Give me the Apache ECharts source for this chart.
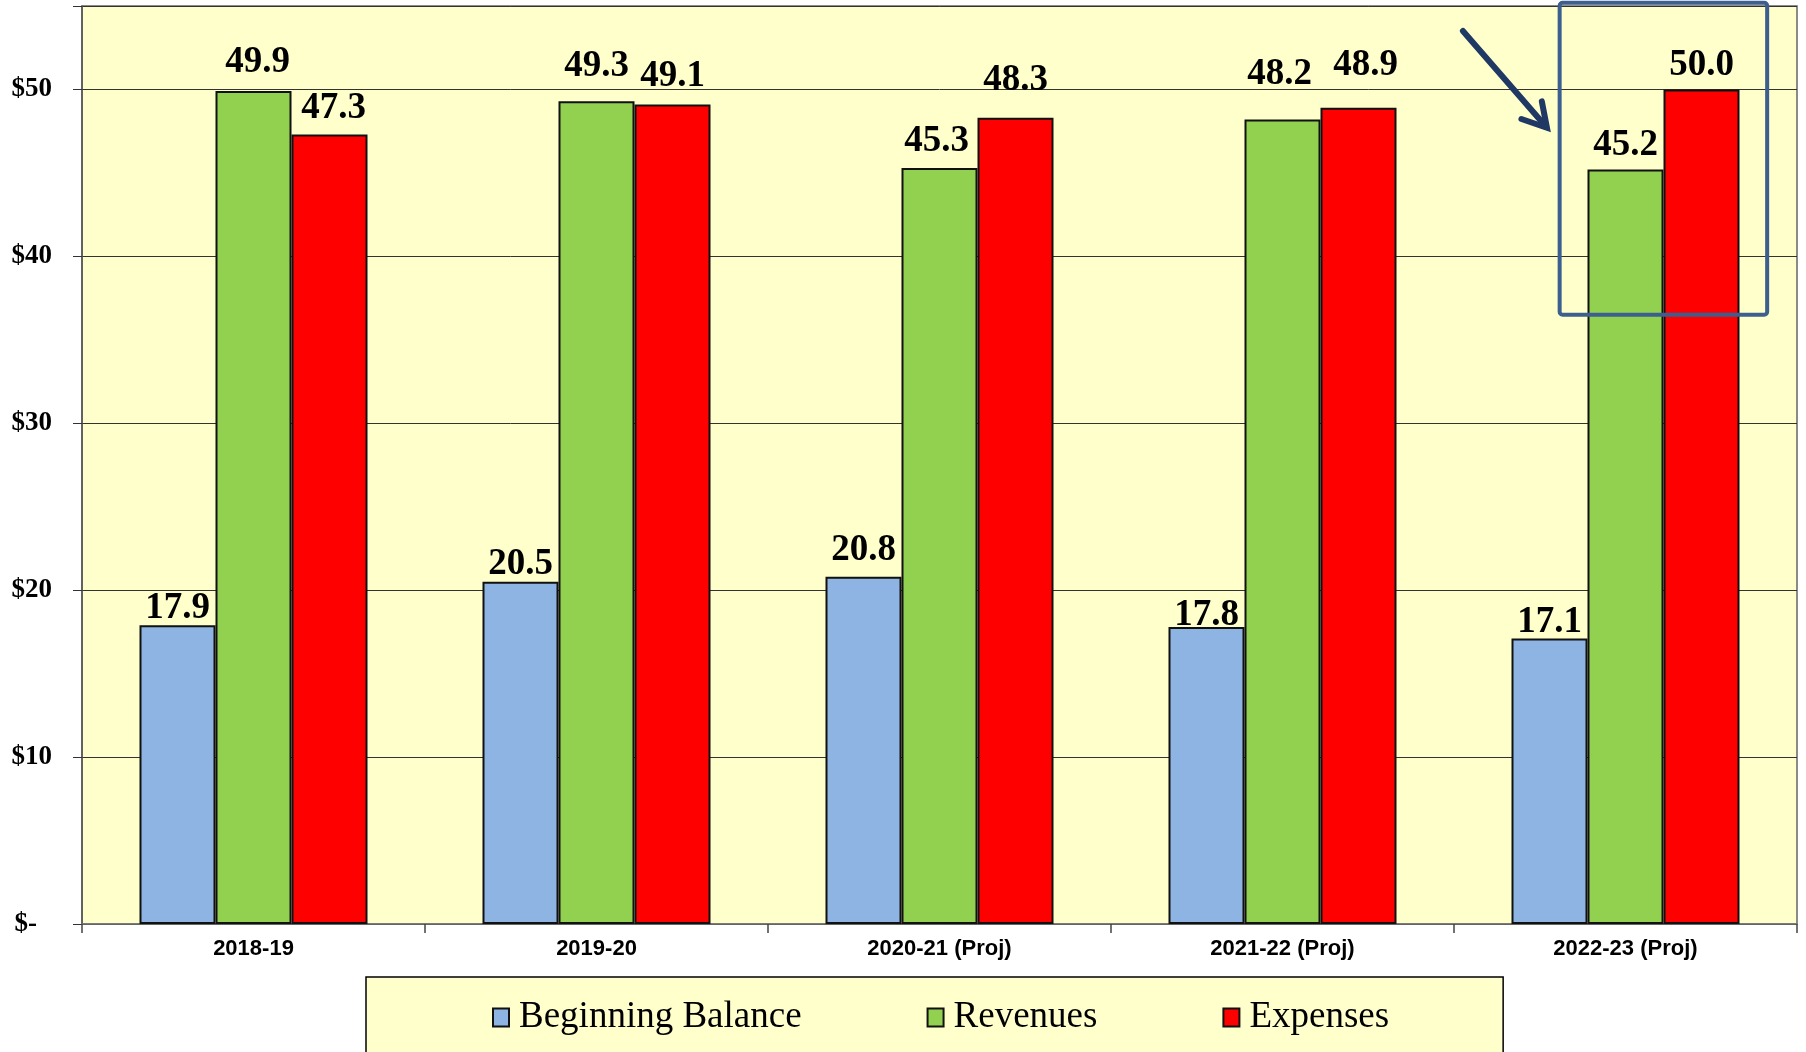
<!DOCTYPE html>
<html>
<head>
<meta charset="utf-8">
<script src="https://cdn.jsdelivr.net/npm/echarts@6/dist/echarts.min.js"></script>
<style>
html,body{margin:0;padding:0;background:#fff;}
#c{width:1806px;height:1052px;}
</style>
</head>
<body>
<div id="c"></div>
<script>
const categories = ['2018-19', '2019-20', '2020-21 (Proj)', '2021-22 (Proj)', '2022-23 (Proj)'];
const beginningBalance = [17.9, 20.5, 20.8, 17.8, 17.1];
const revenues = [49.9, 49.3, 45.3, 48.2, 45.2];
const expenses = [47.3, 49.1, 48.3, 48.9, 50.0];
const yTicks = [0, 10, 20, 30, 40, 50];

// label nudges (px) reproducing the hand-placed data labels of the original
const balanceLabelLift = [-2, -1, 8, -7, -2];
const revenueLabelLift = [10, 16, 8, 27, 6];
const expenseLabelLift = [8, 10, 19, 24, 6];
const balanceLabelShift = [0, 0, 0, 0, 0];
const revenueLabelShift = [4, 0, -3, -3, 0];
const expenseLabelShift = [4, 0, 0, 7, 0];

const chart = echarts.init(document.getElementById('c'), null, {renderer: 'canvas'});

const SERIF = 'Liberation Serif, Times New Roman, serif';

function barSeries(name, values, color, lift, shift) {
  return {
    name: name,
    type: 'bar',
    data: values.map((v, i) => ({
      value: v,
      label: {offset: [shift[i], -lift[i]]}
    })),
    barWidth: 76,
    barGap: '0%',
    itemStyle: {color: color, borderColor: '#111', borderWidth: 2},
    label: {
      show: true,
      position: 'top',
      distance: 0,
      fontFamily: SERIF,
      fontWeight: 'bold',
      fontSize: 37,
      color: '#000',
      formatter: p => Number(p.value).toFixed(1)
    },
    emphasis: {disabled: true}
  };
}

const option = {
  animation: false,
  backgroundColor: '#ffffff',
  grid: {
    left: 82, right: 9, top: 6, bottom: 128,
    outerBoundsMode: 'none',
    show: true,
    backgroundColor: '#FFFFCC',
    borderColor: '#666',
    borderWidth: 1.5
  },
  legend: {
    left: 366, top: 977,
    padding: [22, 114, 48, 126],
    backgroundColor: '#FFFFCC',
    borderColor: '#000',
    borderWidth: 1.5,
    itemGap: 125,
    itemWidth: 16,
    itemHeight: 18,
    icon: 'rect',
    textStyle: {
      fontFamily: SERIF,
      fontSize: 37,
      color: '#000',
      padding: [0, 0, 0, 5]
    },
    selectedMode: false
  },
  xAxis: {
    type: 'category',
    data: categories,
    boundaryGap: true,
    axisLine: {show: true, lineStyle: {color: '#777', width: 1.5}},
    axisTick: {show: true, length: 9, lineStyle: {color: '#444', width: 1.5}},
    axisLabel: {
      margin: 14,
      fontFamily: "'Liberation Sans', Arial, sans-serif",
      fontWeight: 'bold',
      fontSize: 22,
      color: '#000'
    },
    splitLine: {show: false}
  },
  yAxis: {
    type: 'value',
    min: 0,
    max: 55,
    interval: 10,
    axisLine: {show: true, lineStyle: {color: '#555', width: 1.5}},
    axisTick: {show: true, length: 9, lineStyle: {color: '#333', width: 1}},
    axisLabel: {
      margin: 30,
      fontFamily: SERIF,
      fontWeight: 'bold',
      fontSize: 27,
      color: '#000',
      formatter: v => {
        if (yTicks.indexOf(v) < 0) return '';
        return v === 0 ? '{z|$-}' : '$' + v;
      },
      rich: {
        z: {
          fontFamily: SERIF,
          fontWeight: 'bold',
          fontSize: 27,
          color: '#000',
          padding: [0, 15, 0, 0]
        }
      }
    },
    splitLine: {show: true, lineStyle: {color: '#333', width: 1}}
  },
  series: [
    barSeries('Beginning Balance', beginningBalance, '#8EB4E3', balanceLabelLift, balanceLabelShift),
    barSeries('Revenues', revenues, '#92D050', revenueLabelLift, revenueLabelShift),
    barSeries('Expenses', expenses, '#FF0000', expenseLabelLift, expenseLabelShift)
  ]
};

chart.setOption(option);

// Annotation: highlight box and arrow around the last category
function addAnnotations() {
  const idx = categories.length - 1;
  const c4 = chart.convertToPixel({gridIndex: 0}, [idx, 0]);
  const c3 = chart.convertToPixel({gridIndex: 0}, [idx - 1, 0]);
  const band = c4[0] - c3[0];
  const cx = c4[0];
  const yAt = v => chart.convertToPixel({gridIndex: 0}, [idx, v])[1];
  const yTop = yAt(55.2);
  const yBot = yAt(36.5);
  const bx0 = cx - 0.192 * band, bx1 = cx + 0.413 * band;

  const aStart = [cx - 0.474 * band, yAt(53.5)];
  const aTip = [cx - 0.229 * band, yAt(47.7)];
  const dx = aTip[0] - aStart[0], dy = aTip[1] - aStart[1];
  const len = Math.sqrt(dx * dx + dy * dy);
  const ux = dx / len, uy = dy / len;
  const hl = 27, ang = 30 * Math.PI / 180;
  const c = Math.cos(ang), s = Math.sin(ang);
  const w1 = [aTip[0] - hl * (ux * c - uy * s), aTip[1] - hl * (uy * c + ux * s)];
  const w2 = [aTip[0] - hl * (ux * c + uy * s), aTip[1] - hl * (uy * c - ux * s)];

  chart.setOption({
    graphic: [
      {
        type: 'rect',
        shape: {x: bx0, y: yTop, width: bx1 - bx0, height: yBot - yTop, r: 3},
        style: {fill: null, stroke: '#3D5F8F', lineWidth: 4},
        z: 100
      },
      {
        type: 'line',
        shape: {x1: aStart[0], y1: aStart[1], x2: aTip[0] - ux * 3, y2: aTip[1] - uy * 3},
        style: {stroke: '#1F3864', lineWidth: 6, lineCap: 'round'},
        z: 100
      },
      {
        type: 'polyline',
        shape: {points: [w1, aTip, w2]},
        style: {stroke: '#1F3864', lineWidth: 6, fill: null, lineJoin: 'miter', lineCap: 'round'},
        z: 100
      }
    ]
  });
}
addAnnotations();
</script>
</body>
</html>
